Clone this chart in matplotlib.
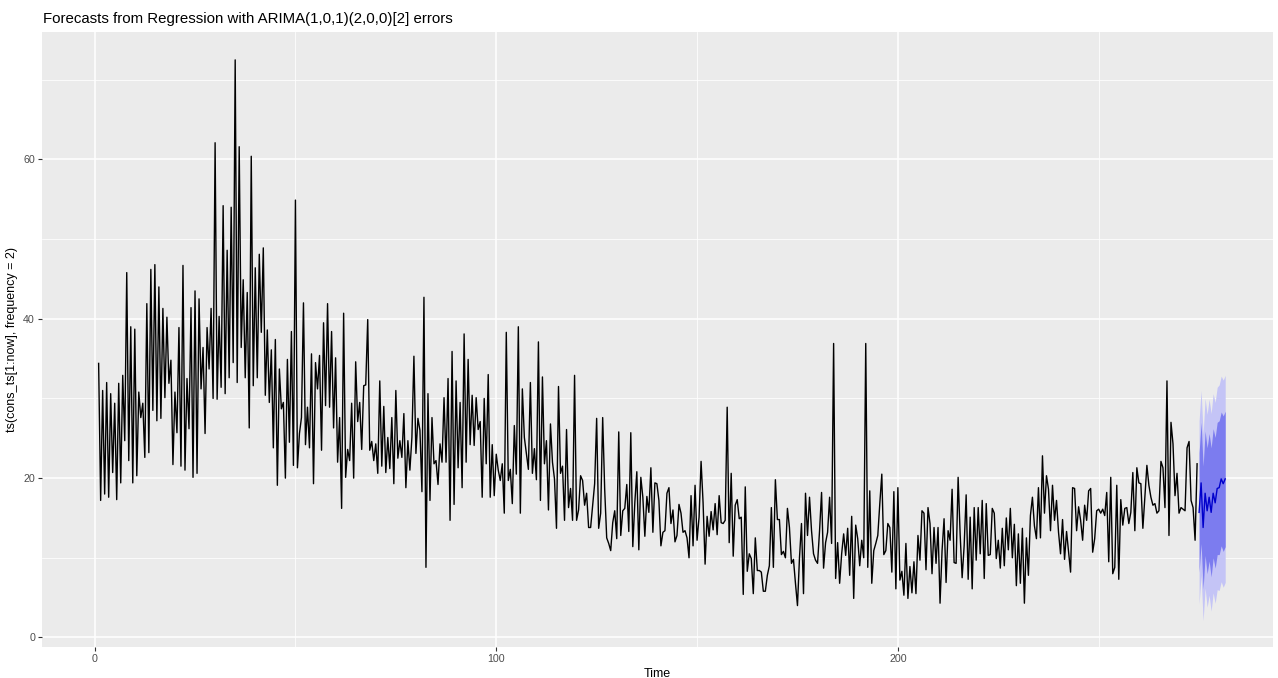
import numpy as np
import matplotlib
matplotlib.use('Agg')
import matplotlib.pyplot as plt
from matplotlib.ticker import MultipleLocator

plt.rcParams['font.family'] = ['Liberation Sans', 'DejaVu Sans']

# observed series, ts(frequency = 2) starting at 1
start = 1
freq = 2
cons = [
    # 1 - 28
    34.4, 17.2, 31.0, 18.0, 32.0, 17.6, 30.6, 20.7, 29.4, 17.3, 31.9, 19.4, 32.9, 24.7, 45.8, 22.2,
    39.0, 19.4, 38.7, 20.3, 30.8, 27.6, 29.4, 22.6, 41.9, 23.2, 46.2, 28.5, 46.8, 27.2, 44.0, 27.5,
    41.3, 30.1, 40.2, 31.9, 34.8, 21.7, 30.8, 25.7, 38.9, 21.5, 46.7, 21.0, 32.5, 26.2, 41.4, 20.1,
    43.5, 20.6, 42.5, 31.2, 36.4, 25.6,
    # 28 - 55
    38.9, 33.7, 41.3, 30.0, 62.1, 29.9, 40.3, 31.4, 54.2, 30.6, 48.6, 32.6, 54.0, 34.5, 72.5, 32.0,
    61.6, 36.4, 44.9, 32.6, 43.3, 26.3, 60.4, 31.6, 46.4, 32.6, 48.1, 38.3, 48.9, 30.4, 38.6, 29.5,
    36.1, 23.8, 37.4, 19.1, 33.7, 28.7, 29.5, 20.0, 34.9, 24.5, 38.4, 21.6, 54.9, 21.3, 25.6, 27.6,
    42.0, 24.2, 28.9, 23.8, 35.6, 19.3, 34.5,
    # 55 - 82
    31.2, 35.4, 23.5, 39.5, 29.1, 41.9, 28.9, 38.4, 26.3, 35.1, 22.0, 27.6, 16.2, 40.7, 20.1, 23.6,
    22.2, 29.4, 20.0, 34.6, 27.1, 29.5, 23.6, 31.6, 31.7, 39.9, 23.5, 24.6, 22.2, 24.3, 20.6, 32.2,
    21.5, 29.0, 20.7, 25.1, 21.2, 27.6, 19.3, 31.0, 22.5, 24.7, 22.6, 28.1, 18.8, 24.7, 21.0, 25.1,
    35.3, 23.1, 27.5, 26.0, 18.3, 42.7, 8.8,
    # 82 - 110
    30.6, 17.2, 27.6, 21.8, 22.2, 19.2, 24.3, 22.0, 30.1, 22.0, 32.5, 14.7, 35.9, 16.7, 32.2, 21.3,
    29.5, 18.8, 38.1, 22.0, 34.9, 24.2, 30.4, 24.1, 30.1, 26.1, 27.1, 17.6, 30.0, 21.8, 33.0, 17.6,
    24.2, 17.8, 23.0, 21.0, 19.7, 21.8, 15.6, 38.3, 19.7, 21.1, 16.8, 26.6, 20.5, 39.0, 15.6, 31.2,
    25.1, 23.1, 21.1, 32.0, 20.6, 23.7, 19.8,
    # 110 - 137
    37.1, 17.2, 32.7, 21.8, 24.7, 16.0, 26.8, 22.0, 19.9, 13.7, 31.5, 20.6, 21.5, 14.7, 26.1, 16.3,
    18.7, 14.7, 32.9, 14.7, 16.0, 20.3, 19.7, 16.6, 18.1, 13.8, 13.8, 16.5, 19.3, 27.5, 13.7, 15.6,
    27.6, 18.6, 12.5, 11.8, 10.9, 14.4, 15.9, 12.4, 25.8, 12.8, 15.9, 16.2, 19.2, 13.3, 25.7, 11.4,
    16.9, 20.8, 11.0, 20.1, 17.6, 12.7, 17.7,
    # 137 - 165
    15.7, 21.3, 13.2, 19.4, 19.3, 17.2, 11.5, 13.2, 13.4, 18.1, 18.8, 14.3, 16.0, 12.0, 12.8, 16.7,
    15.6, 13.2, 13.4, 12.5, 10.0, 17.8, 11.5, 19.1, 12.2, 15.1, 22.1, 16.9, 9.2, 15.2, 12.7, 15.8,
    13.5, 16.8, 12.9, 17.8, 14.4, 14.3, 14.7, 28.9, 11.9, 20.6, 10.2, 16.6, 17.3, 14.9, 15.1, 5.4,
    18.9, 8.3, 10.5, 9.9, 5.5, 12.5, 8.4,
    # 165 - 192
    8.4, 8.2, 5.8, 5.8, 7.8, 9.0, 16.3, 8.8, 19.8, 14.8, 14.8, 10.4, 10.8, 10.0, 16.2, 13.8,
    9.3, 9.8, 6.8, 4.0, 10.0, 14.3, 5.5, 18.1, 12.8, 17.6, 13.4, 10.5, 9.7, 9.3, 13.4, 18.2,
    8.7, 11.9, 13.2, 17.6, 11.8, 36.9, 7.4, 11.9, 6.8, 10.5, 13.0, 10.3, 13.7, 7.8, 15.2, 4.9,
    14.1, 12.4, 9.0, 12.2, 10.0, 36.9, 8.8,
    # 192 - 220
    18.4, 6.8, 10.9, 11.8, 12.8, 16.8, 20.5, 10.4, 10.9, 14.3, 13.8, 8.2, 18.3, 6.1, 18.8, 7.2,
    8.3, 5.3, 11.8, 4.9, 8.9, 5.6, 9.5, 5.5, 12.8, 9.7, 15.9, 15.6, 8.5, 16.3, 14.3, 8.0,
    13.8, 9.3, 13.8, 4.3, 10.9, 14.9, 6.9, 13.4, 12.2, 18.6, 9.4, 9.3, 20.1, 13.0, 7.5, 11.5,
    17.9, 7.3, 15.1, 6.1, 16.3, 9.7,
    # 220 - 246
    16.3, 10.5, 17.2, 7.4, 16.8, 10.3, 10.4, 16.2, 15.6, 9.9, 12.2, 8.7, 13.7, 9.0, 15.0, 11.0,
    16.2, 10.0, 14.2, 6.5, 13.0, 6.8, 13.7, 4.3, 12.5, 7.8, 15.3, 17.6, 14.0, 12.4, 18.8, 12.5,
    22.8, 15.6, 20.3, 18.6, 13.4, 19.1, 14.7, 17.2, 13.2, 10.5, 14.8, 9.8, 13.3, 10.7, 8.2, 18.8,
    18.7, 13.4, 16.4, 14.7,
    # 246 - 274.5
    12.2, 16.6, 14.7, 18.4, 18.7, 10.7, 12.4, 15.9, 16.1, 15.6, 16.1, 15.3, 18.2, 9.5, 20.1, 8.0,
    8.8, 19.1, 7.3, 17.3, 14.1, 16.2, 16.3, 14.3, 15.7, 20.7, 13.4, 21.3, 19.4, 19.3, 13.7, 17.6,
    21.6, 19.1, 17.6, 16.6, 16.8, 15.6, 15.9, 22.1, 21.3, 16.3, 32.2, 12.8, 27.0, 24.3, 17.8, 20.6,
    15.6, 16.3, 16.1, 15.9, 23.8, 24.6, 17.2, 16.3, 12.2, 21.8,
]

# forecast (h = 14) with 80% and 95% intervals
fc_mean = [15.7, 19.4, 13.8, 18.1, 15.9, 17.6, 15.7, 18.1, 16.9, 18.7, 18.8, 19.9, 19.3, 19.9]
fc_lo80 = [8.2, 11.8, 6.1, 10.3, 8.0, 9.6, 7.6, 10.0, 8.7, 10.4, 10.4, 11.5, 10.8, 11.4]
fc_hi80 = [23.2, 27.0, 21.5, 25.9, 23.8, 25.6, 23.8, 26.2, 25.1, 27.0, 27.2, 28.3, 27.8, 28.4]
fc_lo95 = [4.2, 7.8, 2.1, 6.2, 3.8, 5.3, 3.3, 5.6, 4.3, 6.0, 5.9, 7.0, 6.3, 6.9]
fc_hi95 = [27.2, 31.0, 25.5, 30.0, 28.0, 29.9, 28.1, 30.6, 29.5, 31.4, 31.7, 32.8, 32.3, 32.9]

t_hist = start + np.arange(len(cons)) / freq
t_fc = t_hist[-1] + (1 + np.arange(len(fc_mean))) / freq

fig = plt.figure(figsize=(12.78, 6.78), dpi=100)
fig.patch.set_facecolor('white')
ax = fig.add_axes([42 / 1278, 1 - 647 / 678, 1231 / 1278, 615 / 678])
ax.set_facecolor('#ebebeb')

# ggplot-ish grid
ax.xaxis.set_major_locator(MultipleLocator(100))
ax.xaxis.set_minor_locator(MultipleLocator(50))
ax.yaxis.set_major_locator(MultipleLocator(20))
ax.yaxis.set_minor_locator(MultipleLocator(10))
ax.grid(which='major', color='white', linewidth=1.1, zorder=0)
ax.grid(which='minor', color='white', linewidth=0.55, zorder=0)
ax.set_axisbelow(True)
for s in ax.spines.values():
    s.set_visible(False)

ax.fill_between(t_fc, fc_lo95, fc_hi95, color='#c4c4f6', linewidth=0, zorder=2)
ax.fill_between(t_fc, fc_lo80, fc_hi80, color='#7c7cef', linewidth=0, zorder=3)
ax.plot(t_hist, cons, color='black', linewidth=1.0, zorder=4)
ax.plot(t_fc, fc_mean, color='#0000cc', linewidth=1.0, zorder=5)

ax.set_xlim(-13.1, 293.4)
ax.set_ylim(-1.2, 76.0)

ax.tick_params(which='major', length=3, width=0.8, color='#333333',
               labelcolor='#4d4d4d', labelsize=7.7, pad=2)
ax.tick_params(which='minor', length=0)

ax.set_xlabel('Time', fontsize=9, color='black', labelpad=3)
ax.set_ylabel('ts(cons_ts[1:now], frequency = 2)', fontsize=9, color='black', labelpad=4)

fig.text(43 / 1278, 1 - 23 / 678, 'Forecasts from Regression with ARIMA(1,0,1)(2,0,0)[2] errors',
         fontsize=10.8, color='black', ha='left', va='baseline')

fig.savefig('out.png', dpi=100)
